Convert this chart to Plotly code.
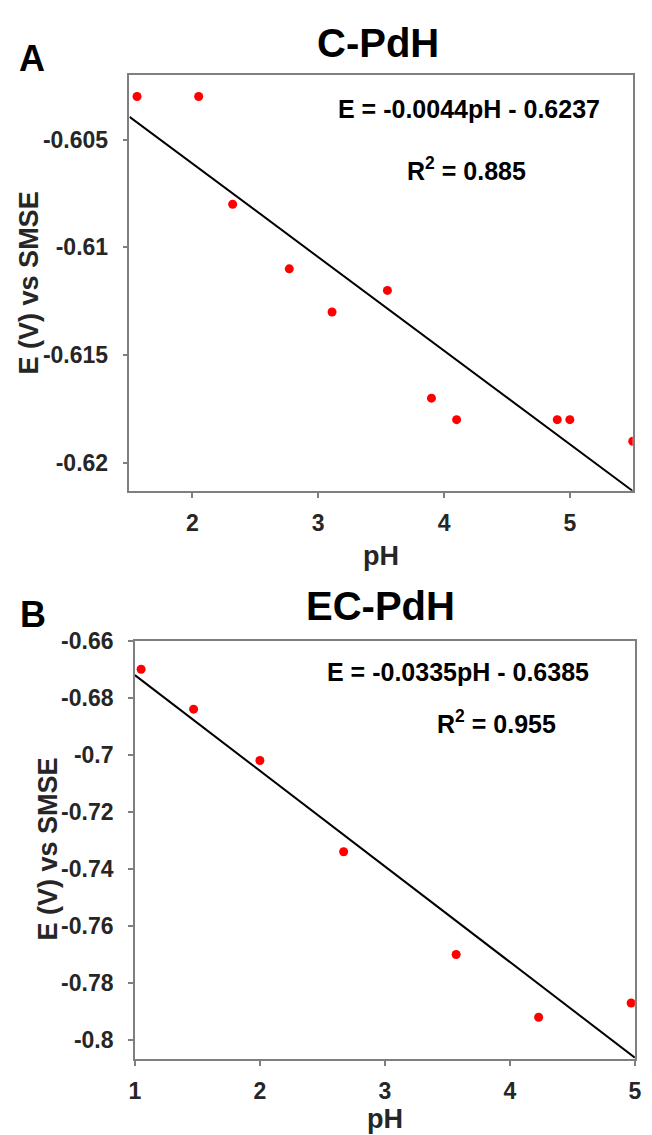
import numpy as np
import plotly.graph_objects as go

# ---- Data: panel A (C-PdH) ----
ph_a = [1.56, 2.05, 2.32, 2.77, 3.11, 3.55, 3.90, 4.10, 4.90, 5.00, 5.50]
e_a = [-0.603, -0.603, -0.608, -0.611, -0.613, -0.612, -0.617, -0.618, -0.618, -0.618, -0.619]
# ---- Data: panel B (EC-PdH) ----
ph_b = [1.05, 1.47, 2.00, 2.67, 3.57, 4.23, 4.97]
e_b = [-0.670, -0.684, -0.702, -0.734, -0.770, -0.792, -0.787]

xticks_a = [2, 3, 4, 5]
yticks_a = [-0.605, -0.61, -0.615, -0.62]
yticktext_a = ["-0.605", "-0.61", "-0.615", "-0.62"]
xticks_b = [1, 2, 3, 4, 5]
yticks_b = [-0.66, -0.68, -0.70, -0.72, -0.74, -0.76, -0.78, -0.80]
yticktext_b = ["-0.66", "-0.68", "-0.7", "-0.72", "-0.74", "-0.76", "-0.78", "-0.8"]

xrange_a = [1.5, 5.5]
yrange_a = [-0.6213, -0.6020]
xrange_b = [1.0, 5.0]
yrange_b = [-0.8066, -0.6600]

eq_a = "E = -0.0044pH - 0.6237"
r2_a = "R<sup>2</sup> = 0.885"
eq_b = "E = -0.0335pH - 0.6385"
r2_b = "R<sup>2</sup> = 0.955"

# linear fits
ca = np.polyfit(ph_a, e_a, 1)
cb = np.polyfit(ph_b, e_b, 1)
fx_a = np.array(xrange_a)
fx_b = np.array(xrange_b)

W, H = 652, 1135
FONT = "Liberation Sans, Arial, sans-serif"
TXT = "#262626"

fig = go.Figure()
fig.add_trace(go.Scatter(x=fx_a, y=np.polyval(ca, fx_a), mode="lines",
                         line=dict(color="black", width=2), xaxis="x", yaxis="y", showlegend=False))
fig.add_trace(go.Scatter(x=ph_a, y=e_a, mode="markers",
                         marker=dict(color="#ff0000", size=9), xaxis="x", yaxis="y", showlegend=False))
fig.add_trace(go.Scatter(x=fx_b, y=np.polyval(cb, fx_b), mode="lines",
                         line=dict(color="black", width=2), xaxis="x2", yaxis="y2", showlegend=False))
fig.add_trace(go.Scatter(x=ph_b, y=e_b, mode="markers",
                         marker=dict(color="#ff0000", size=9), xaxis="x2", yaxis="y2", showlegend=False))

def px(x):
    return x / W

def py(y):
    return 1 - y / H

axis_common = dict(showline=True, linecolor="#7f7f7f", linewidth=1.5, mirror=True,
                   ticks="outside", ticklen=5, tickcolor="#7f7f7f", tickwidth=1.5,
                   showgrid=False, zeroline=False,
                   tickfont=dict(family=FONT, size=23, color=TXT, weight="bold"))

fig.update_layout(
    width=W, height=H,
    margin=dict(l=0, r=0, t=0, b=0),
    paper_bgcolor="white", plot_bgcolor="white",
    xaxis=dict(domain=[px(126), px(639.5)], range=xrange_a, tickvals=xticks_a,
               anchor="y", ticklabelstandoff=6, **axis_common),
    yaxis=dict(domain=[py(483.3), py(62.7)], range=yrange_a, tickvals=yticks_a,
               ticktext=yticktext_a, anchor="x", ticklabelstandoff=10, **axis_common),
    xaxis2=dict(domain=[px(131.5), px(641.7)], range=xrange_b, tickvals=xticks_b,
                anchor="y2", ticklabelstandoff=6, **axis_common),
    yaxis2=dict(domain=[py(1058), py(635)], range=yrange_b, tickvals=yticks_b,
                ticktext=yticktext_b, anchor="x2", ticklabelstandoff=10, **axis_common),
)

def ann(text, x, y, size, xanchor="center", angle=0, color=TXT):
    fig.add_annotation(text=text, x=px(x), y=py(y), xref="paper", yref="paper",
                       showarrow=False, xanchor=xanchor, yanchor="middle", textangle=angle,
                       font=dict(family=FONT, size=size, color=color, weight="bold"))

# Titles and panel letters
ann("C-PdH", 380, 30, 40, color="black")
ann("A", 27, 46, 36, color="black")
ann("EC-PdH", 382, 600, 40, color="black")
ann("B", 28, 608, 36, color="black")
# Equations
ann(eq_a, 608, 97, 25, xanchor="right", color="black")
ann(r2_a, 533, 158, 25, xanchor="right", color="black")
ann(eq_b, 597, 667, 25, xanchor="right", color="black")
ann(r2_b, 563, 717, 25, xanchor="right", color="black")
# Axis titles
ann("pH", 383, 549, 27)
ann("pH", 387, 1119, 27)
ann("E (V) vs SMSE", 23, 273, 27, angle=-90)
ann("E (V) vs SMSE", 43, 846, 27, angle=-90)

fig.write_html("out.html")
